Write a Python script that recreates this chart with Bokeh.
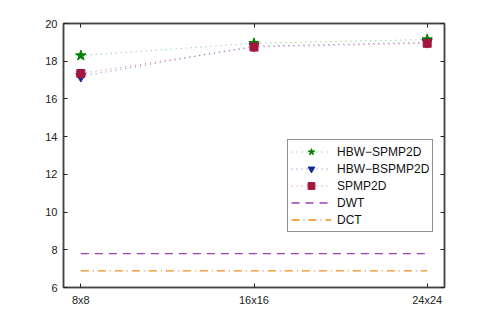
from bokeh.plotting import figure
from bokeh.models import (LinearAxis, FixedTicker, Legend, LegendItem, Range1d)
from bokeh.embed import file_html
from bokeh.resources import INLINE

# ---- data ----
sizes = ["8x8", "16x16", "24x24"]
x_pos = [0, 1, 2]
hbw_spmp2d = [18.3, 18.95, 19.15]
hbw_bspmp2d = [17.2, 18.8, 19.0]
spmp2d = [17.35, 18.75, 18.95]
dwt = [7.8, 7.8, 7.8]
dct = [6.88, 6.88, 6.88]
y_ticks = [6, 8, 10, 12, 14, 16, 18, 20]

FONT = "Liberation Sans"
AX = "#444444"

p = figure(frame_width=381, frame_height=264, output_backend="svg",
           toolbar_location=None, x_range=Range1d(-0.1, 2.1), y_range=Range1d(6, 20),
           min_border_left=63, min_border_right=31, min_border_top=23, min_border_bottom=21)
p.grid.visible = False
p.outline_line_color = AX
p.outline_line_width = 1.5
p.background_fill_color = "white"
p.border_fill_color = "white"

def style_axis(ax, labels=True):
    ax.axis_line_color = AX
    ax.axis_line_width = 1.5
    ax.major_tick_in = 4
    ax.major_tick_out = 0
    ax.minor_tick_line_color = None
    ax.major_tick_line_color = "#222222"
    ax.major_label_text_font = FONT
    ax.major_label_text_font_size = "11px"
    ax.major_label_text_color = "#222222"
    ax.major_label_standoff = 6
    if not labels:
        ax.major_label_text_font_size = "0px"
        ax.major_label_text_color = None

p.xaxis.ticker = FixedTicker(ticks=x_pos)
p.xaxis.major_label_overrides = {i: s for i, s in zip(x_pos, sizes)}
p.yaxis.ticker = FixedTicker(ticks=y_ticks)
style_axis(p.xaxis[0])
style_axis(p.yaxis[0])

top = LinearAxis(ticker=FixedTicker(ticks=x_pos))
style_axis(top, labels=False)
p.add_layout(top, "above")
right = LinearAxis(ticker=FixedTicker(ticks=y_ticks))
style_axis(right, labels=False)
p.add_layout(right, "right")

l1 = p.line(x_pos, hbw_spmp2d, line_color="#33aa33", line_dash="1 4", line_width=1, line_alpha=0.7)
m1 = p.scatter(x_pos, hbw_spmp2d, marker="star", size=11, fill_color="#008000", line_color="#008000")
l2 = p.line(x_pos, hbw_bspmp2d, line_color="#3344cc", line_dash="1 4", line_width=1, line_alpha=0.7)
m2 = p.scatter(x_pos, hbw_bspmp2d, marker="inverted_triangle", size=10, fill_color="#1a2a99", line_color="#1a2a99")
l3 = p.line(x_pos, spmp2d, line_color="#cc4466", line_dash="1 4", line_width=1, line_alpha=0.7)
m3 = p.scatter(x_pos, spmp2d, marker="square", size=8, fill_color="#a3173a", line_color="#a3173a")
l4 = p.line(x_pos, dwt, line_color="#9b3fb5", line_dash="8 6", line_width=1.3)
l5 = p.line(x_pos, dct, line_color="#f08c1c", line_dash="8 4 1 4", line_width=1.3)

items = [
    LegendItem(label="HBW\u2212SPMP2D", renderers=[l1, m1]),
    LegendItem(label="HBW\u2212BSPMP2D", renderers=[l2, m2]),
    LegendItem(label="SPMP2D", renderers=[l3, m3]),
    LegendItem(label="DWT", renderers=[l4]),
    LegendItem(label="DCT", renderers=[l5]),
]
leg = Legend(items=items, location=(224, 55))
leg.border_line_color = "#222222"
leg.border_line_width = 1
leg.background_fill_alpha = 1
leg.label_text_font = FONT
leg.label_text_font_size = "12px"
leg.label_text_color = "#111111"
leg.glyph_width = 40
leg.glyph_height = 17
leg.label_height = 17
leg.spacing = 0
leg.padding = 3
leg.margin = 0
leg.label_standoff = 6
p.add_layout(leg)

open("out.html", "w").write(file_html(p, INLINE))
